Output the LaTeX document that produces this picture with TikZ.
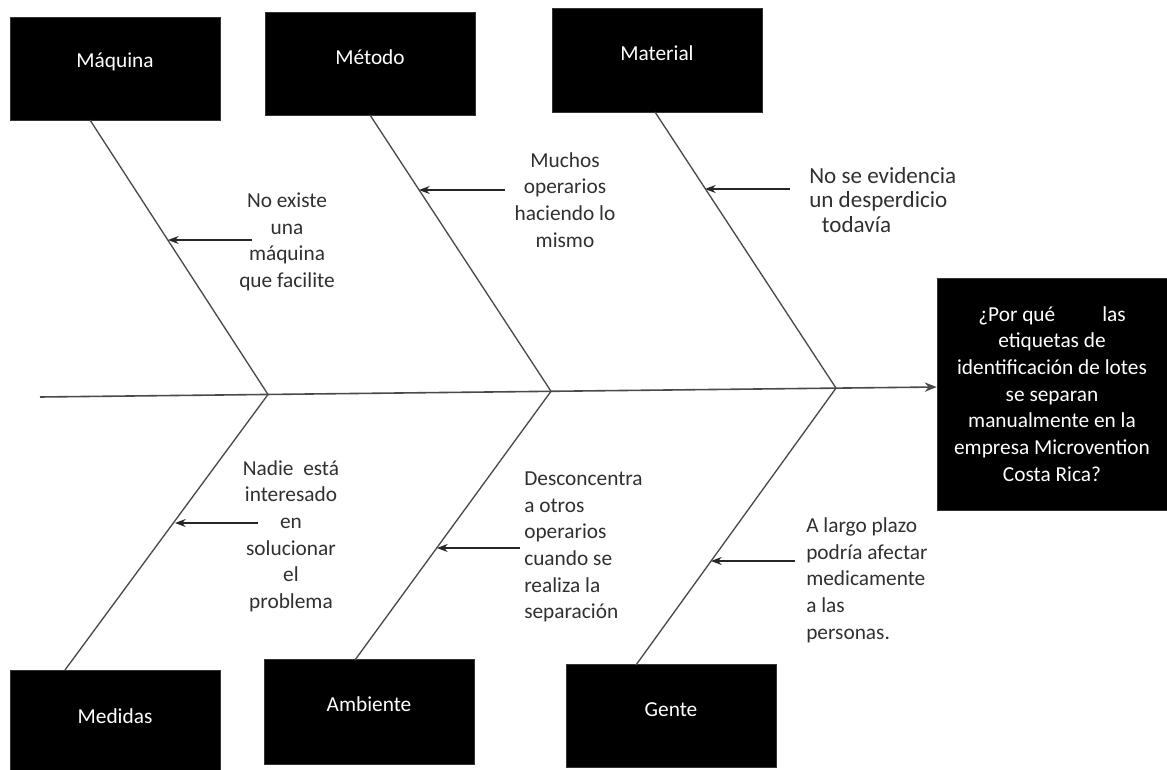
\documentclass[tikz,border=0pt]{standalone}
\usepackage{fontspec}
\setmainfont{Carlito}
\usetikzlibrary{arrows.meta}
\definecolor{ink}{HTML}{303030}
\definecolor{bonegray}{HTML}{4A4A4A}
\begin{document}
\begin{tikzpicture}[x=0.75pt,y=-0.75pt,
  catbox/.style={fill=black, draw=black!80, inner sep=0pt,
                 minimum width=157.5pt, minimum height=77pt},
  cattext/.style={text=white, font=\fontsize{16}{20}\selectfont},
  cause/.style={text=ink, font=\fontsize{16}{20}\selectfont, inner sep=0pt},
  bone/.style={draw=bonegray, line width=1pt},
  pointer/.style={draw=black!85, line width=1pt, -{Stealth[length=8pt,width=6pt]}}]
\useasboundingbox (0,0) rectangle (1167,770);

% category boxes
\node[catbox, label={[cattext, yshift=5pt]center:Máquina}] (maq) at (115,68.5) {};
\node[catbox, label={[cattext, yshift=5pt]center:Método}] (met) at (370,63.5) {};
\node[catbox, minimum height=78pt, label={[cattext, yshift=5.3pt]center:Material}] (mat) at (657,60) {};
\node[catbox, minimum height=75pt, label={[cattext, yshift=3pt]center:Medidas}] (med) at (115,720) {};
\node[catbox, minimum height=79pt, label={[cattext, yshift=5.5pt]center:Ambiente}] (amb) at (369,711.5) {};
\node[catbox, label={[cattext, yshift=4.5pt]center:Gente}] (gen) at (671,716) {};

% effect box
\node[fill=black, draw=black!80, minimum width=172.5pt, minimum height=174pt,
      text=white, align=center, font=\fontsize{16}{20}\selectfont] (eff) at (1052,394)
  {¿Por qué\hspace{2.2em}las\\etiquetas de\\identificación de lotes\\se separan\\manualmente en la\\empresa Microvention\\Costa Rica?};

% spine
\coordinate (tail) at (40,397);
\coordinate (j1) at (268,394.5);
\coordinate (j2) at (551,391.3);
\coordinate (j3) at (836,388.1);
\draw[bonegray, line width=1.2pt, -{Stealth[length=9pt,width=7pt]}] (tail) -- (eff.west |- 0,387);

% bone roots on the boxes
\coordinate (r1) at (90,120);
\coordinate (r2) at (370,115);
\coordinate (r3) at (655,112);
\coordinate (r4) at (65,670);
\coordinate (r5) at (355,660);
\coordinate (r6) at (636,665);

\draw[bone] (r1) -- (j1);
\draw[bone] (r2) -- (j2);
\draw[bone] (r3) -- (j3);
\draw[bone] (r4) -- (j1);
\draw[bone] (r5) -- (j2);
\draw[bone] (r6) -- (j3);

% cause texts
\node[cause, align=center] (c1) at (287,242) {No existe\\una\\máquina\\que facilite};
\node[cause, align=center] (c2) at (565,200) {Muchos\\operarios\\haciendo lo\\mismo};
\node[cause, align=left, anchor=west, font=\fontsize{17.3}{18.4}\selectfont] (c3) at (809,200) {No se evidencia\\un desperdicio\\\hspace*{0.55em}todavía};
\node[cause, align=center] (c4) at (291,536) {Nadie\ \ está\\interesado\\en\\solucionar\\el\\problema};
\node[cause, align=left, anchor=west] (c5) at (524,547) {Desconcentra\\a otros\\operarios\\cuando se\\realiza la\\separación};
\node[cause, align=left, anchor=west] (c6) at (806,580) {A largo plazo\\podría afectar\\medicamente\\a las\\personas.};

% pointers from each cause onto its bone
\coordinate (s1) at (252,240);  \coordinate (e1) at (168,240);
\coordinate (s2) at (505,190);  \coordinate (e2) at (419,190);
\coordinate (s3) at (790,189);  \coordinate (e3) at (705,189);
\coordinate (s4) at (258,523);  \coordinate (e4) at (175,523);
\coordinate (s5) at (520,548);  \coordinate (e5) at (437,548);
\coordinate (s6) at (795,561);  \coordinate (e6) at (711,561);
\draw[pointer] (s1) -- (e1);
\draw[pointer] (s2) -- (e2);
\draw[pointer] (s3) -- (e3);
\draw[pointer] (s4) -- (e4);
\draw[pointer] (s5) -- (e5);
\draw[pointer] (s6) -- (e6);
\end{tikzpicture}
\end{document}
